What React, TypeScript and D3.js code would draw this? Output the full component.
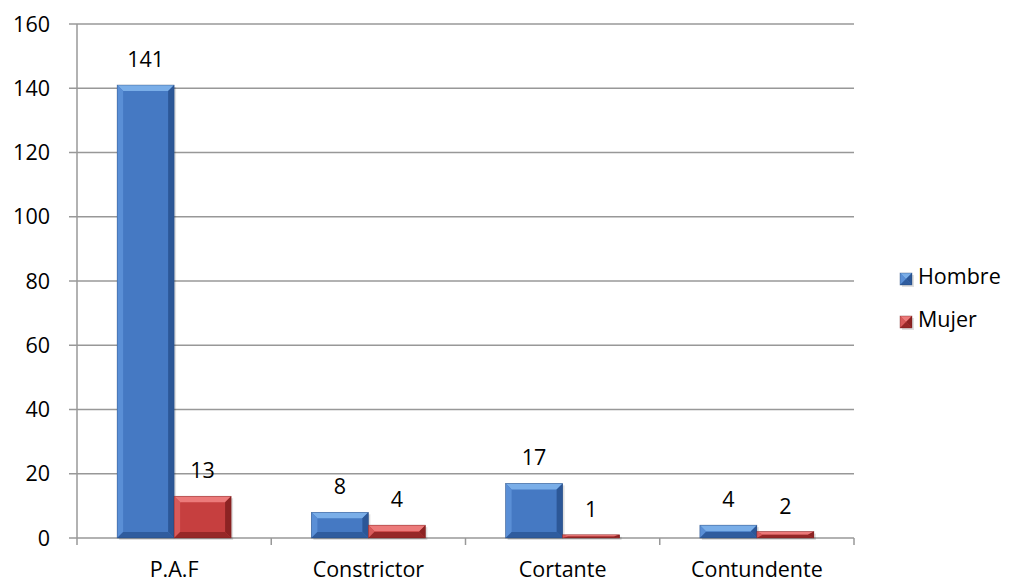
import React from "react";
import * as d3 from "d3";

const categories = ["P.A.F", "Constrictor", "Cortante", "Contundente"];
const seriesNames = ["Hombre", "Mujer"];
const hombre = [141, 8, 17, 4];
const mujer = [13, 4, 1, 2];
const yTicks = [0, 20, 40, 60, 80, 100, 120, 140, 160];

const W = 1009;
const H = 581;
const X0 = 77;
const X1 = 854;
const Y0 = 538;
const Y1 = 24;
const FONT = "'Open Sans', 'Noto Sans', sans-serif";
const FS = 21.5;

const palettes = [
  { face: "#4579c3", top: "#7aaee8", left: "#5a8fd6", right: "#2c5797", bottom: "#2f5c9e", shadow: "#1f3f6e" },
  { face: "#c63f3f", top: "#ec7a7a", left: "#d85a5a", right: "#8c2323", bottom: "#962828", shadow: "#6a1a1a" },
];

function BevelBar({ x, y, w, h, p }: { x: number; y: number; w: number; h: number; p: typeof palettes[0] }) {
  if (h <= 0) return null;
  const b = Math.max(0.5, Math.min(6, h / 2, w / 2));
  const bx = Math.min(6, w / 2);
  const x2 = x + w;
  const y2 = y + h;
  const pts = (a: number[][]) => a.map((q) => q.join(",")).join(" ");
  return (
    <g>
      <rect x={x + 2} y={y + 2} width={w} height={h} fill="#000" opacity={0.12} />
      <rect x={x} y={y} width={w} height={h} fill={p.face} />
      <polygon points={pts([[x, y], [x2, y], [x2 - bx, y + b], [x + bx, y + b]])} fill={p.top} />
      <polygon points={pts([[x, y], [x + bx, y + b], [x + bx, y2 - b], [x, y2]])} fill={p.left} />
      <polygon points={pts([[x2, y], [x2, y2], [x2 - bx, y2 - b], [x2 - bx, y + b]])} fill={p.right} />
      <polygon points={pts([[x, y2], [x + bx, y2 - b], [x2 - bx, y2 - b], [x2, y2]])} fill={p.bottom} />
      <rect x={x} y={y} width={w} height={h} fill="none" stroke={p.shadow} strokeWidth={0.6} opacity={0.6} />
    </g>
  );
}

export default function App() {
  const y = d3.scaleLinear().domain([0, 160]).range([Y0, Y1]);
  const x = d3.scaleBand<string>().domain(categories).range([X0, X1]).padding(0);
  const xs = d3
    .scaleBand<string>()
    .domain(seriesNames)
    .range([0, x.bandwidth()])
    .paddingInner(0)
    .paddingOuter(0.704);
  const series = [hombre, mujer];
  const bounds = [X0, ...categories.map((c) => (x(c) as number) + x.bandwidth())];

  return (
    <svg width={W} height={H} style={{ position: "absolute", left: 0, top: 0 }} fontFamily={FONT}>
      <rect x={0} y={0} width={W} height={H} fill="#fff" />
      {yTicks.map((t) => (
        <g key={t}>
          <line x1={X0 - 8} x2={X1} y1={y(t)} y2={y(t)} stroke="#989898" strokeWidth={1.5} />
          <text x={50} y={y(t)} dy="0.36em" textAnchor="end" fontSize={FS} fill="#000">
            {t}
          </text>
        </g>
      ))}
      <line x1={X0} x2={X0} y1={Y1} y2={Y0 + 7} stroke="#989898" strokeWidth={1.5} />
      {bounds.slice(1).map((b, i) => (
        <line key={i} x1={b} x2={b} y1={Y0} y2={Y0 + 7} stroke="#989898" strokeWidth={1.5} />
      ))}
      {categories.map((c, ci) =>
        series.map((s, si) => {
          const bx = (x(c) as number) + (xs(seriesNames[si]) as number);
          const bw = xs.bandwidth();
          const top = y(s[ci]);
          return (
            <g key={c + si}>
              <BevelBar x={bx} y={top} w={bw} h={Y0 - top} p={palettes[si]} />
              <text x={bx + bw / 2} y={top - 18} textAnchor="middle" fontSize={FS} fill="#000">
                {s[ci]}
              </text>
            </g>
          );
        })
      )}
      {categories.map((c) => (
        <text key={c} x={(x(c) as number) + x.bandwidth() / 2} y={577} textAnchor="middle" fontSize={FS} fill="#000">
          {c}
        </text>
      ))}
      {seriesNames.map((n, i) => (
        <g key={n}>
          <BevelBar x={900} y={273 + i * 43} w={12} h={12} p={palettes[i]} />
          <text x={918} y={284 + i * 43} fontSize={FS} fill="#000">
            {n}
          </text>
        </g>
      ))}
    </svg>
  );
}
